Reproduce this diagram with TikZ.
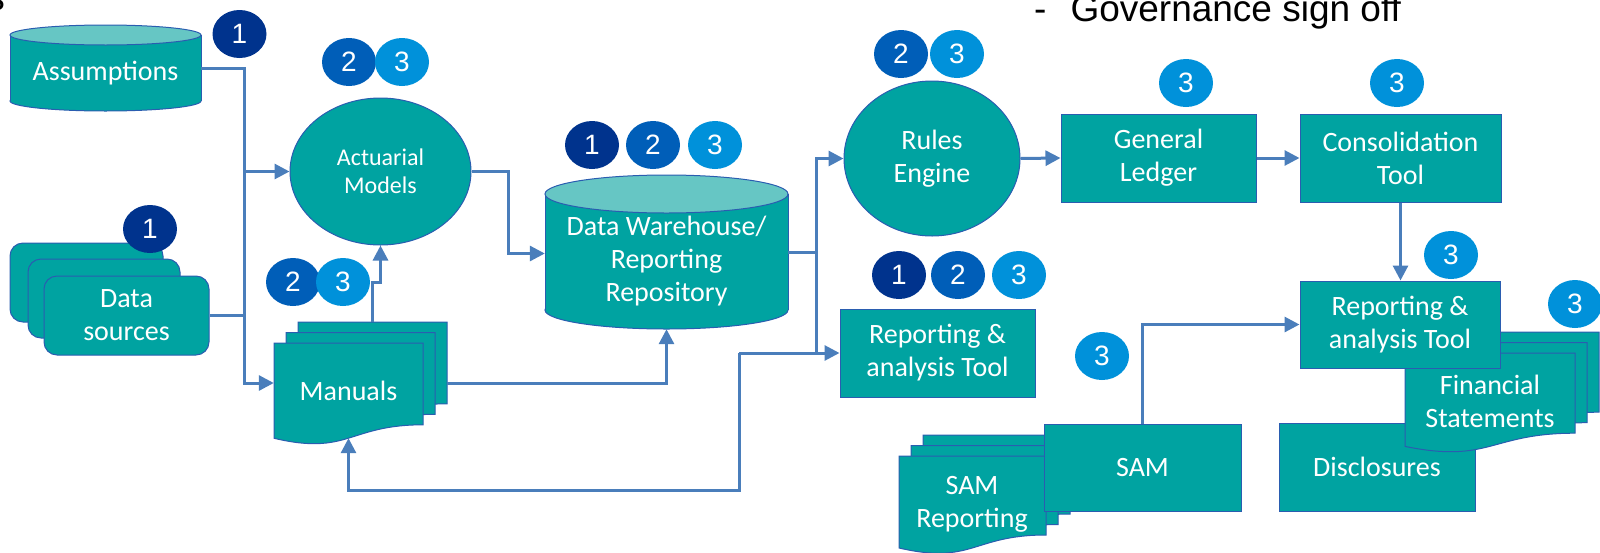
\documentclass[tikz,border=0pt]{standalone}
\usepackage{fontspec}
\setmainfont{Carlito}
\newfontfamily\numfont{Liberation Sans}
\usetikzlibrary{arrows.meta,shapes.geometric,positioning}

\definecolor{tealfill}{HTML}{00A3A1}
\definecolor{tealcap}{HTML}{66C6C4}
\definecolor{rim}{HTML}{2A5DB0}
\definecolor{linkblue}{HTML}{4A7EBB}
\definecolor{kone}{HTML}{00338D}
\definecolor{ktwo}{HTML}{005EB8}
\definecolor{kthree}{HTML}{0091DA}

\tikzset{
  slab/.style={fill=tealfill, draw=rim, line width=1pt},
  lbl/.style={text=white, align=center, inner sep=0pt, font=\fontsize{28}{33}\selectfont},
  box/.style={slab, lbl, rectangle},
  badge/.style={ellipse, inner sep=0pt, minimum width=54pt, minimum height=48pt,
    text=white, font=\numfont\fontsize{28}{28}\selectfont},
  wire/.style={draw=linkblue, line width=3pt},
  link/.style={wire, -{Triangle[length=15pt,width=15pt]}},
}

% page with wavy foot: x, y, width, height
\newcommand{\docpage}[4]{%
  \filldraw[slab] (#1,#2) -- ({#1+#3},#2) -- ({#1+#3},{#2+0.802*#4})
    .. controls ({#1+0.5*#3},{#2+0.802*#4}) and ({#1+0.5*#3},{#2+1.1075*#4})
    .. (#1,{#2+0.934*#4}) -- cycle;}
\newcommand{\docstack}[4]{%
  \docpage{#1+24}{#2-21}{#3}{#4}
  \docpage{#1+12}{#2-10.5}{#3}{#4}
  \docpage{#1}{#2}{#3}{#4}}
% upright drum: left, right, top, bottom, cap radius
\newcommand{\drum}[5]{%
  \filldraw[slab] ({(#1+#2)/2},{#4-#5}) ellipse [x radius={(#2-#1)/2}, y radius=#5];
  \fill[tealfill] (#1,{#3+#5}) rectangle (#2,{#4-#5});
  \draw[rim, line width=1pt] (#1,{#3+#5}) -- (#1,{#4-#5}) (#2,{#3+#5}) -- (#2,{#4-#5});
  \filldraw[slab, fill=tealcap] ({(#1+#2)/2},{#3+#5}) ellipse [x radius={(#2-#1)/2}, y radius=#5];}

\begin{document}
\begin{tikzpicture}[x=1pt,y=-1pt]
  \useasboundingbox (0,0) rectangle (1600,552);

  \node[anchor=base east, inner sep=0pt, font=\numfont\fontsize{37}{37}\selectfont] (cuthead) at (5,10) {s};
  \node[anchor=base west, inner sep=0pt, font=\numfont\fontsize{37}{37}\selectfont] (govern) at (1034,21)
    {-\hspace{24pt}Governance sign off};

  % inputs
  \drum{10}{201}{25}{111}{10}
  \node[lbl, minimum width=191pt, minimum height=76pt] (assump) at (105.5,73) {Assumptions};
  \draw[slab, rounded corners=13pt] (10,243) rectangle (163,322);
  \draw[slab, rounded corners=13pt] (28,259) rectangle (180,338);
  \node[box, rounded corners=13pt, minimum width=165pt, minimum height=79pt] (datasrc) at (126.5,315.5) {Data\\sources};

  \node[slab, lbl, ellipse, minimum width=181pt, minimum height=147pt, font=\fontsize{24}{28}\selectfont]
    (actuarial) at (380.5,171.5) {Actuarial\\Models};
  \docstack{274}{343}{149}{102}
  \node[lbl, minimum width=149pt, minimum height=95pt] (manuals) at (348.5,390.5) {Manuals};

  \drum{545}{788}{175}{329}{19}
  \node[lbl, minimum width=243pt, minimum height=135pt] (dw) at (666.5,261.5) {Data Warehouse/\\Reporting\\Repository};

  % outputs
  \node[slab, lbl, ellipse, minimum width=176pt, minimum height=155pt] (rules) at (932,158.5) {Rules\\Engine};
  \node[box, minimum width=195pt, minimum height=88pt] (gl) at (1158.5,158) {General\\Ledger};
  \node[box, minimum width=201pt, minimum height=88pt] (ct) at (1400.5,158) {Consolidation\\Tool};
  \node[box, minimum width=195pt, minimum height=88pt] (rtool) at (937.5,353) {Reporting \&\\analysis Tool};

  \docstack{899}{456}{147}{98.5}
  \node[lbl] (samrep) at (972,504) {SAM\\Reporting};
  \node[box, minimum width=197pt, minimum height=87pt] (sam) at (1142.5,467.5) {SAM};

  \node[box, minimum width=196pt, minimum height=88pt] (discl) at (1377,467) {Disclosures};
  \docstack{1405}{353}{170}{100}
  \node[lbl] (finst) at (1490,401) {Financial\\Statements};
  \node[box, minimum width=200pt, minimum height=87pt] (rtooltwo) at (1400,324.5) {Reporting \&\\analysis Tool};

  % connectors
  \coordinate (split) at (244,171.5);
  \draw[link] ([yshift=5pt]assump.east) -| (split) -- (actuarial.west);
  \draw[link] (split) |- ([yshift=7.5pt]manuals.west);
  \draw[wire] (datasrc.east) -- (datasrc.east -| split);
  \draw[link] ([xshift=23.5pt,yshift=21pt]manuals.north) -- ++(0,-39) -| (actuarial.south);
  \draw[link] ([xshift=24pt,yshift=7.5pt]manuals.east) -| (dw.south);
  \draw[link] (actuarial.east) -- ++(37,0) |- ([yshift=8pt]dw.west);
  \draw[link] ([yshift=9pt]dw.east) -- ++(28,0) coordinate (fork) |- (rules.west);
  \draw[link] (fork) |- (rtool.west);
  \draw[wire] (fork |- rtool.west) -- ++(-77,0) coordinate (loop);
  \draw[link] (loop) -- ++(0,137) -| (manuals.south);
  \draw[link] (rules.east) -- (gl.west);
  \draw[link] (gl.east) -- (ct.west);
  \draw[link] (ct.south) -- (ct.south |- rtooltwo.north);
  \draw[link] (sam.north) |- (rtooltwo.west);

  % control levels
  \foreach \x/\y/\n/\c [count=\i] in {239.5/34/1/kone, 150/229/1/kone, 349/62/2/ktwo, 402/62/3/kthree,
      293/282/2/ktwo, 343/282/3/kthree, 592/145/1/kone, 653/145/2/ktwo, 715/145/3/kthree,
      901/54/2/ktwo, 957/54/3/kthree, 1186/83/3/kthree, 1397/83/3/kthree,
      899/275/1/kone, 958/275/2/ktwo, 1019/275/3/kthree, 1102/356/3/kthree,
      1451/255/3/kthree, 1575/304/3/kthree}
    \node[badge, fill=\c] (badge\i) at (\x,\y) {\n};
\end{tikzpicture}
\end{document}
